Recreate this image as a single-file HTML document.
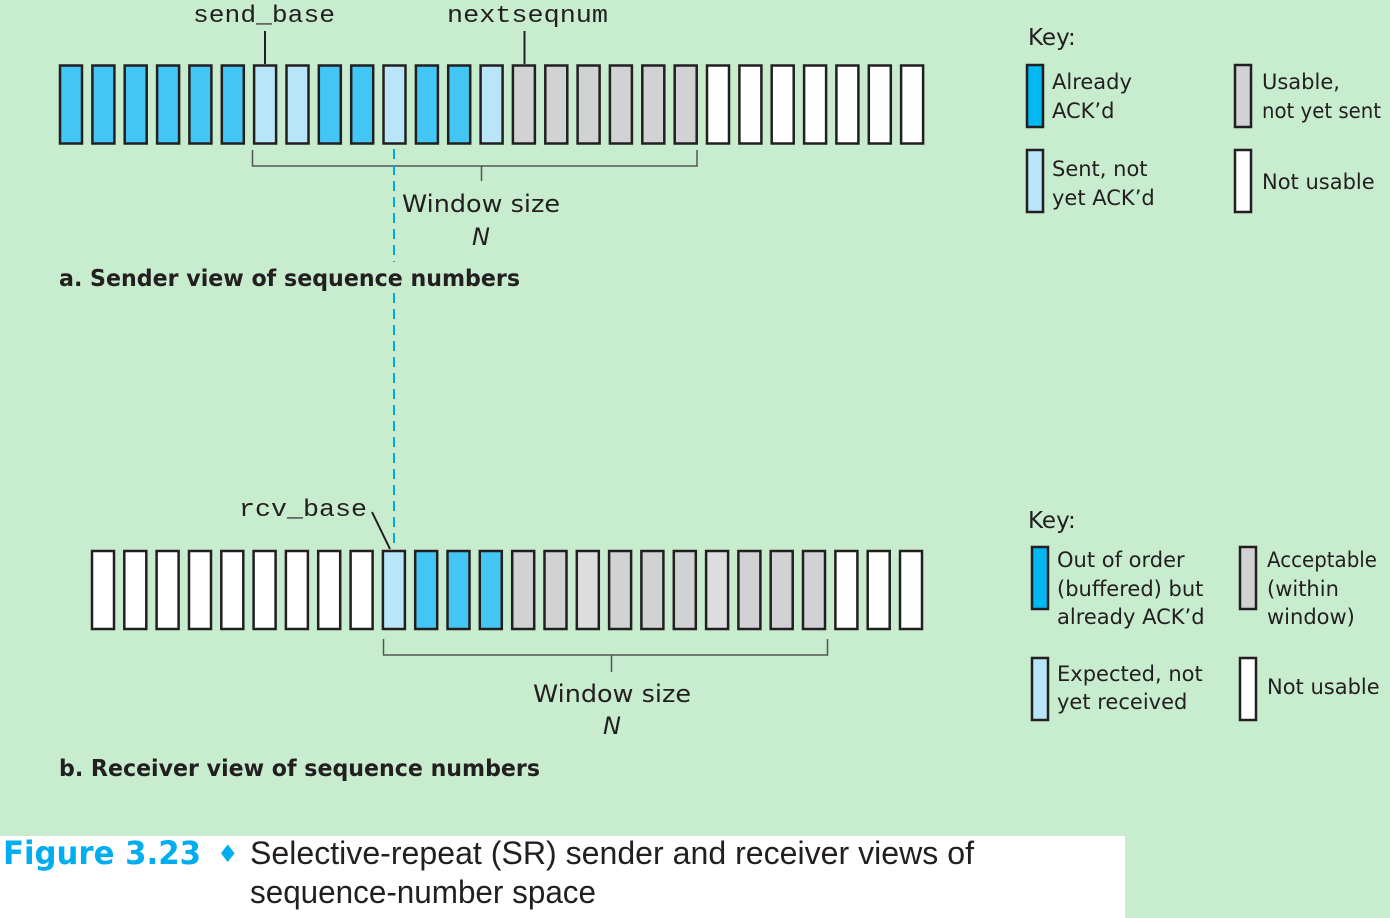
<!DOCTYPE html>
<html><head><meta charset="utf-8"><style>
html,body{margin:0;padding:0;background:#c7ecce;}
svg{display:block}
</style></head><body>
<svg width="1390" height="918" viewBox="0 0 1390 918" xmlns="http://www.w3.org/2000/svg">
<rect x="0" y="0" width="1390" height="918" fill="#c7ecce"/>
<g stroke="#231f20" stroke-width="2.5">
<!-- sender boxes -->
<g fill="#43c6f4">
<rect x="60" y="65.5" width="22" height="78"/><rect x="92.4" y="65.5" width="22" height="78"/><rect x="124.7" y="65.5" width="22" height="78"/><rect x="157.1" y="65.5" width="22" height="78"/><rect x="189.4" y="65.5" width="22" height="78"/><rect x="221.8" y="65.5" width="22" height="78"/>
<rect x="318.8" y="65.5" width="22" height="78"/><rect x="351.2" y="65.5" width="22" height="78"/><rect x="415.9" y="65.5" width="22" height="78"/><rect x="448.2" y="65.5" width="22" height="78"/>
</g>
<g fill="#b8e5f8">
<rect x="254.1" y="65.5" width="22" height="78"/><rect x="286.5" y="65.5" width="22" height="78"/><rect x="383.5" y="65.5" width="22" height="78"/><rect x="480.6" y="65.5" width="22" height="78"/>
</g>
<g fill="#d1d2d4">
<rect x="512.9" y="65.5" width="22" height="78"/><rect x="545.3" y="65.5" width="22" height="78"/><rect x="577.6" y="65.5" width="22" height="78"/><rect x="609.9" y="65.5" width="22" height="78"/><rect x="642.3" y="65.5" width="22" height="78"/><rect x="674.7" y="65.5" width="22" height="78"/>
</g>
<g fill="#ffffff">
<rect x="707" y="65.5" width="22" height="78"/><rect x="739.4" y="65.5" width="22" height="78"/><rect x="771.7" y="65.5" width="22" height="78"/><rect x="804.1" y="65.5" width="22" height="78"/><rect x="836.4" y="65.5" width="22" height="78"/><rect x="868.8" y="65.5" width="22" height="78"/><rect x="901.1" y="65.5" width="22" height="78"/>
</g>
<!-- receiver boxes -->
<g fill="#ffffff">
<rect x="92" y="551" width="22" height="78"/><rect x="124.3" y="551" width="22" height="78"/><rect x="156.6" y="551" width="22" height="78"/><rect x="189" y="551" width="22" height="78"/><rect x="221.3" y="551" width="22" height="78"/><rect x="253.6" y="551" width="22" height="78"/><rect x="285.9" y="551" width="22" height="78"/><rect x="318.2" y="551" width="22" height="78"/><rect x="350.6" y="551" width="22" height="78"/>
<rect x="835.4" y="551" width="22" height="78"/><rect x="867.7" y="551" width="22" height="78"/><rect x="900" y="551" width="22" height="78"/>
</g>
<rect x="382.9" y="551" width="22" height="78" fill="#b8e5f8"/>
<g fill="#43c6f4">
<rect x="415.2" y="551" width="22" height="78"/><rect x="447.5" y="551" width="22" height="78"/><rect x="479.8" y="551" width="22" height="78"/>
</g>
<g fill="#d1d2d4">
<rect x="512.2" y="551" width="22" height="78"/><rect x="544.5" y="551" width="22" height="78"/><rect x="609.1" y="551" width="22" height="78"/><rect x="641.4" y="551" width="22" height="78"/><rect x="673.8" y="551" width="22" height="78"/><rect x="738.4" y="551" width="22" height="78"/><rect x="770.7" y="551" width="22" height="78"/><rect x="803" y="551" width="22" height="78"/>
</g>
<g fill="#dcdddf">
<rect x="576.8" y="551" width="22" height="78"/><rect x="706.1" y="551" width="22" height="78"/>
</g>
<!-- legend boxes -->
<rect x="1027" y="65" width="16" height="62" fill="#00b9f2"/>
<rect x="1235" y="65" width="16" height="62" fill="#d1d2d4"/>
<rect x="1027" y="150" width="16" height="62" fill="#b8e5f8"/>
<rect x="1235" y="150" width="16" height="62" fill="#ffffff"/>
<rect x="1032" y="547" width="16" height="62" fill="#00b9f2"/>
<rect x="1240" y="547" width="16" height="62" fill="#d1d2d4"/>
<rect x="1032" y="658" width="16" height="62" fill="#b8e5f8"/>
<rect x="1240" y="658" width="16" height="62" fill="#ffffff"/>
</g>
<!-- pointers -->
<g stroke="#231f20" stroke-width="2" fill="none">
<line x1="265" y1="31" x2="265" y2="64"/>
<line x1="524.5" y1="31" x2="524.5" y2="64"/>
<line x1="372" y1="512" x2="390" y2="549"/>
</g>
<g stroke="#555" stroke-width="1.5" fill="none">
<polyline points="252.5,150 252.5,166 697,166 697,150"/>
<line x1="481.5" y1="166" x2="481.5" y2="181"/>
<polyline points="383.5,639 383.5,655 827.5,655 827.5,639"/>
<line x1="611.5" y1="655" x2="611.5" y2="672"/>
</g>
<!-- dashed line -->
<line x1="394" y1="149" x2="394" y2="549" stroke="#00a6e6" stroke-width="2" stroke-dasharray="10,6"/>
<!-- texts -->
<g font-family="Liberation Mono, monospace" font-size="24" fill="#231f20">
<text x="193" y="22" textLength="142" lengthAdjust="spacingAndGlyphs">send_base</text>
<text x="447" y="22" textLength="161" lengthAdjust="spacingAndGlyphs">nextseqnum</text>
<text x="239" y="516" textLength="128" lengthAdjust="spacingAndGlyphs">rcv_base</text>
</g>
<g font-family="DejaVu Sans, Liberation Sans, sans-serif" fill="#231f20">
<rect x="398" y="188" width="166" height="30" fill="#c7ecce"/>
<text x="402" y="212" font-size="24" textLength="158" lengthAdjust="spacingAndGlyphs">Window size</text>
<text x="472" y="245" font-size="24" font-style="italic">N</text>
<text x="533" y="702" font-size="24" textLength="158" lengthAdjust="spacingAndGlyphs">Window size</text>
<text x="603" y="734" font-size="24" font-style="italic">N</text>
<text x="1028" y="45" font-size="23">Key:</text>
<text x="1028" y="528" font-size="23">Key:</text>
<g font-size="21">
<text x="1052" y="89">Already</text><text x="1052" y="118">ACK’d</text>
<text x="1262" y="89">Usable,</text><text x="1262" y="118" textLength="119" lengthAdjust="spacingAndGlyphs">not yet sent</text>
<text x="1052" y="176">Sent, not</text><text x="1052" y="205">yet ACK’d</text>
<text x="1262" y="189">Not usable</text>
<text x="1057" y="567">Out of order</text><text x="1057" y="596">(buffered) but</text><text x="1057" y="624">already ACK’d</text>
<text x="1267" y="567" textLength="110" lengthAdjust="spacingAndGlyphs">Acceptable</text><text x="1267" y="596">(within</text><text x="1267" y="624">window)</text>
<text x="1057" y="681">Expected, not</text><text x="1057" y="709">yet received</text>
<text x="1267" y="694">Not usable</text>
</g>
</g>
<g font-family="DejaVu Sans, Liberation Sans, sans-serif" font-weight="bold" font-size="23" fill="#231f20">
<rect x="388" y="262" width="12" height="30" fill="#c7ecce"/>
<text x="59" y="286" textLength="461" lengthAdjust="spacingAndGlyphs">a. Sender view of sequence numbers</text>
<text x="59" y="776" textLength="481" lengthAdjust="spacingAndGlyphs">b. Receiver view of sequence numbers</text>
</g>
<!-- caption -->
<rect x="0" y="836" width="1125" height="82" fill="#ffffff"/>
<text x="3" y="864" font-family="DejaVu Sans, Liberation Sans, sans-serif" font-weight="bold" font-size="32" fill="#00aeef" textLength="198" lengthAdjust="spacingAndGlyphs">Figure 3.23</text>
<text x="217" y="862" font-family="DejaVu Sans, sans-serif" font-size="24" fill="#00aeef">♦</text>
<g font-family="Liberation Sans, sans-serif" font-size="32" fill="#231f20">
<text x="250" y="864" textLength="724" lengthAdjust="spacingAndGlyphs">Selective-repeat (SR) sender and receiver views of</text>
<text x="250" y="903" textLength="346" lengthAdjust="spacingAndGlyphs">sequence-number space</text>
</g>
</svg>
</body></html>
